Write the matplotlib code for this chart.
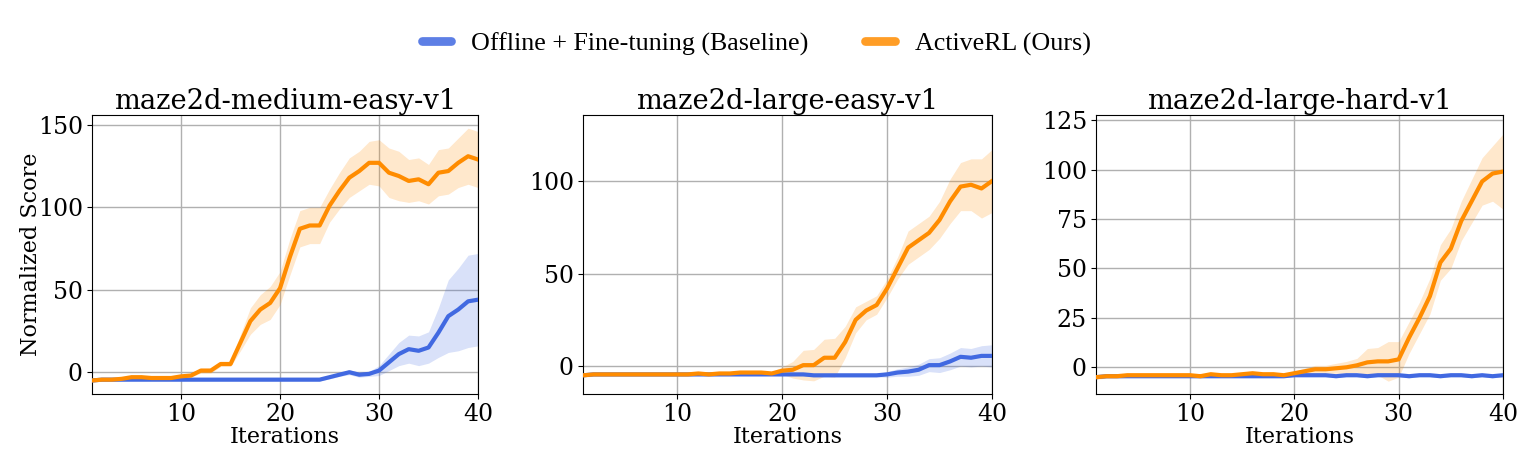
import numpy as np
import matplotlib
matplotlib.use("Agg")
import matplotlib.pyplot as plt

iters = list(range(1, 41))

titles = ["maze2d-medium-easy-v1", "maze2d-large-easy-v1", "maze2d-large-hard-v1"]
series_names = ["Offline + Fine-tuning (Baseline)", "ActiveRL (Ours)"]

# Panel 1: maze2d-medium-easy-v1
p1_active = [-5, -4.5, -4.5, -4, -3, -3, -3.5, -3.5, -3.5, -2.5,
             -2, 1, 1, 5, 5, 18, 31, 38, 42, 51,
             70, 87, 89, 89, 101, 110, 118, 122, 127, 127,
             121, 119, 116, 117, 114, 121, 122, 127, 131, 129]
p1_active_sd = [1, 1, 1, 1, 1, 1, 1, 1, 1, 1,
                1, 1.5, 1.5, 1.5, 1.5, 5, 8, 9, 10, 10,
                11, 11, 11, 11, 10, 11, 12, 12, 13, 14,
                15, 15, 13, 13, 12, 14, 14, 15, 17, 17]
p1_base = [-5, -4.5, -4.5, -4.5, -4.5, -4.5, -4.5, -4.5, -4.5, -4.5,
           -4.5, -4.5, -4.5, -4.5, -4.5, -4.5, -4.5, -4.5, -4.5, -4.5,
           -4.5, -4.5, -4.5, -4.5, -3, -1.5, 0, -1.5, -1, 1,
           6, 11, 14, 13, 15, 24, 34, 38, 43, 44]
p1_base_sd = [0.8] * 24 + [1, 1, 1.5, 1.5, 1.5, 3,
                           5, 7, 8.5, 9, 9.5, 15, 22, 25, 28, 28]

# Panel 2: maze2d-large-easy-v1
p2_active = [-5, -4.5, -4.5, -4.5, -4.5, -4.5, -4.5, -4.5, -4.5, -4.5,
             -4.5, -4, -4.5, -4, -4, -3.5, -3.5, -3.5, -4, -2.5,
             -2, 0.5, 0.5, 4.5, 4.5, 13, 25, 30, 33, 42,
             53, 64, 68, 72, 79, 89, 97, 98, 96, 100]
p2_active_sd = [1] * 19 + [2,
                4.5, 8, 8.5, 10, 10.5, 8.5, 7, 5, 5, 5,
                6, 9, 9, 9, 10, 12, 13, 14, 16, 17]
p2_base = [-5, -4.5, -4.5, -4.5, -4.5, -4.5, -4.5, -4.5, -4.5, -4.5,
           -4.5, -4.5, -4.5, -4.5, -4.5, -4.5, -4.5, -4.5, -4.5, -4.5,
           -4.5, -4.5, -5, -5, -5, -5, -5, -5, -5, -4.5,
           -3.5, -3, -2, 0.5, 0.5, 2.5, 5, 4.5, 5.5, 5.5]
p2_base_sd = [0.8] * 29 + [1.5, 2, 2.5, 3, 3.5, 4, 4.5, 5, 5, 5.5, 6]

# Panel 3: maze2d-large-hard-v1
p3_active = [-5, -4.5, -4.5, -4, -4, -4, -4, -4, -4, -4,
             -4.5, -3.5, -4, -4, -3.5, -3, -3.5, -3.5, -4, -3,
             -2, -1, -1, -0.5, 0, 1, 2.5, 3, 3, 4,
             15, 25, 36, 53, 60, 74, 84, 94, 98, 99]
p3_active_sd = [1] * 20 + [1.5, 2, 2, 2.5, 3, 3.5, 7, 7, 10, 9,
                           8, 8, 9, 9, 10, 10, 11, 12, 14, 19]
p3_base = [-5, -4.5, -4.5, -4.5, -4.5, -4.5, -4.5, -4.5, -4.5, -4.5,
           -4.5, -4.5, -4.5, -4.5, -4.5, -4.5, -4.5, -4.5, -4.5, -4,
           -4, -4, -4, -4.5, -4, -4, -4.5, -4, -4, -4,
           -4.5, -4, -4, -4.5, -4, -4, -4.5, -4, -4.5, -4]
p3_base_sd = [0.8] * 40

panels = [
    (p1_base, p1_base_sd, p1_active, p1_active_sd),
    (p2_base, p2_base_sd, p2_active, p2_active_sd),
    (p3_base, p3_base_sd, p3_active, p3_active_sd),
]
ylims = [(-13.2, 156), (-15.1, 135.7), (-13.5, 127.6)]
yticks = [[0, 50, 100, 150], [0, 50, 100], [0, 25, 50, 75, 100, 125]]

blue = "#4169E1"
orange = "#FF8C00"

W, H = 1537, 469
fig = plt.figure(figsize=(W / 100, H / 100), dpi=100)

boxes = [(92, 478), (583, 992), (1096, 1503)]
top_px, bot_px = 115, 394

lines = []
for i, (ax_box, data) in enumerate(zip(boxes, panels)):
    l, r = ax_box
    ax = fig.add_axes([l / W, 1 - bot_px / H, (r - l) / W, (bot_px - top_px) / H])
    b, bsd, a, asd = [np.array(d, dtype=float) for d in data]
    x = np.array(iters)
    ax.grid(True, color="#b0b0b0", linewidth=1.0, zorder=0)
    ax.fill_between(x, b - bsd, b + bsd, color=blue, alpha=0.2, linewidth=0, zorder=2)
    lb, = ax.plot(x, b, color=blue, linewidth=3, zorder=3)
    ax.fill_between(x, a - asd, a + asd, color=orange, alpha=0.2, linewidth=0, zorder=2)
    la, = ax.plot(x, a, color=orange, linewidth=3, zorder=4)
    if i == 0:
        lines = [lb, la]
    ax.set_xlim(1, 40)
    ax.set_ylim(*ylims[i])
    ax.set_xticks([10, 20, 30, 40])
    ax.set_yticks(yticks[i])
    ax.tick_params(labelsize=17, pad=3)
    for lab in ax.get_xticklabels() + ax.get_yticklabels():
        lab.set_fontfamily("DejaVu Serif")
    ax.set_title(titles[i], fontsize=19.7, family="DejaVu Serif", pad=4)
    ax.set_xlabel("Iterations", fontsize=16, family="DejaVu Serif", labelpad=0)
    if i == 0:
        ax.set_ylabel("Normalized Score", fontsize=16, family="DejaVu Serif", labelpad=-3)
    ax.set_axisbelow(True)

leg = fig.legend(lines, series_names, loc="center", bbox_to_anchor=(0.492, 1 - 44 / H),
                 ncol=2, frameon=False, prop={"family": "Liberation Serif", "size": 18.7},
                 handlelength=1.15, columnspacing=2.2, handletextpad=0.75)
for h in leg.get_lines():
    h.set_linewidth(6.3)
    h.set_solid_capstyle("round")
    h.set_alpha(0.85)

fig.savefig("out.png", dpi=100)
